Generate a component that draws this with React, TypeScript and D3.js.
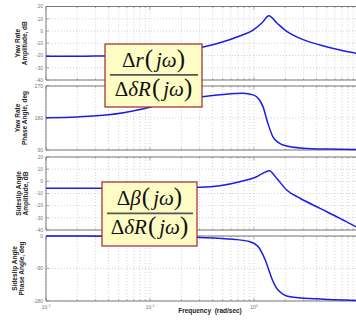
import * as d3 from 'd3';

// frequency (rad/sec) and response values
const yawAmpF = [0.01, 0.02, 0.03, 0.05, 0.08, 0.12, 0.18, 0.3, 0.47, 0.73, 0.98, 1.19, 1.39, 1.66, 2.08, 2.77, 4.31, 6.7, 10];
const yawAmpDb = [-20.6, -20.6, -20.5, -20.2, -19.6, -18.5, -16.8, -13.6, -9.6, -4.1, 0.8, 6.5, 12.5, 6.5, -0.6, -6, -11.4, -15.5, -18.4];

const yawPhF = [0.01, 0.02, 0.04, 0.08, 0.15, 0.32, 0.5, 0.78, 0.98, 1.12, 1.22, 1.36, 1.52, 1.7, 1.9, 2.96, 5, 10];
const yawPhDeg = [181, 183, 189, 204, 224, 240, 246, 249.5, 245, 232, 212, 165, 127, 112, 104, 95, 92.5, 91.5];

const betaAmpF = [0.01, 0.1, 0.3, 0.47, 0.73, 1.06, 1.2, 1.4, 1.65, 2.06, 2.77, 4.31, 6.7, 10];
const betaAmpDb = [-5.7, -5.6, -4.9, -3.6, -0.3, 3.8, 6.3, 8.7, 2.5, -7.1, -13.9, -22.2, -30.4, -38.2];

const betaPhF = [0.01, 0.1, 0.3, 0.63, 0.92, 1.1, 1.28, 1.37, 1.48, 1.71, 2.22, 4.0, 10];
const betaPhDeg = [0, -1.5, -4, -9, -15.7, -29.6, -66, -89, -117, -150, -168, -174, -179];

const ampTicks = [20, 10, 0, -10, -20, -30, -40];
const yawPhTicks = [90, 180, 270];
const betaPhTicks = [-180, -90, 0];
const decadeLabels = [{ v: 0.01, e: '-2' }, { v: 0.1, e: '-1' }, { v: 1, e: '0' }];

const W = 356;
const H = 320;
const x = d3.scaleLog().domain([0.01, 10]).range([46, 358]);

const minorF: number[] = [];
[0.01, 0.1, 1].forEach(d => { for (let k = 1; k <= 9; k++) minorF.push(d * k); });

const blue = '#1c1ce6';
const frame = '#7a7a7a';
const grid = '#b4b4b4';
const tickCol = '#777';

interface PanelProps {
  top: number;
  bottom: number;
  domain: [number, number];
  ticks: number[];
  fs: number[];
  vs: number[];
  label: [string, string];
  labelX: [number, number];
  showX?: boolean;
}

function Panel({ top, bottom, domain, ticks, fs, vs, label, labelX, showX }: PanelProps) {
  const y = d3.scaleLinear().domain(domain).range([bottom, top]);
  const line = d3.line<number>()
    .x((_, i) => x(fs[i]))
    .y(d => y(d))
    .curve(d3.curveMonotoneX);
  const cy = (top + bottom) / 2;
  return (
    <g>
      {minorF.map(f => (
        <line key={'v' + f} x1={x(f)} x2={x(f)} y1={top} y2={bottom}
          stroke={grid} strokeWidth={0.6} strokeDasharray="1,2" />
      ))}
      {ticks.map(t => (
        <line key={'h' + t} x1={x.range()[0]} x2={W} y1={y(t)} y2={y(t)}
          stroke={grid} strokeWidth={0.6} strokeDasharray="1,2" />
      ))}
      {minorF.map(f => {
        const major = Math.abs(Math.log10(f) - Math.round(Math.log10(f))) < 1e-6;
        const len = major ? 3 : 1.6;
        return (
          <g key={'t' + f}>
            <line x1={x(f)} x2={x(f)} y1={top} y2={top + len} stroke={frame} strokeWidth={0.6} />
            <line x1={x(f)} x2={x(f)} y1={bottom} y2={bottom - len} stroke={frame} strokeWidth={0.6} />
          </g>
        );
      })}
      {ticks.map(t => (
        <g key={'yt' + t}>
          <line x1={x.range()[0]} x2={x.range()[0] + 3} y1={y(t)} y2={y(t)} stroke={frame} strokeWidth={0.6} />
          <text x={x.range()[0] - 3} y={y(t)} dy="0.35em" textAnchor="end"
            fontSize={5} fill={tickCol} fontFamily="Liberation Sans, Arial, sans-serif">{t}</text>
        </g>
      ))}
      <line x1={x.range()[0]} x2={W} y1={top} y2={top} stroke={frame} strokeWidth={1} />
      <line x1={x.range()[0]} x2={W} y1={bottom} y2={bottom} stroke={frame} strokeWidth={1} />
      <line x1={x.range()[0]} x2={x.range()[0]} y1={top} y2={bottom} stroke={frame} strokeWidth={1} />
      <path d={line(vs) ?? ''} fill="none" stroke={blue} strokeWidth={1.5} />
      <g fontFamily="Liberation Sans, Arial, sans-serif" fontWeight="bold" fontSize={6.5} fill="#222" textAnchor="middle">
        <text transform={`translate(${labelX[0]},${cy}) rotate(-90)`} dy="0.35em">{label[0]}</text>
        <text transform={`translate(${labelX[1]},${cy}) rotate(-90)`} dy="0.35em">{label[1]}</text>
      </g>
      {showX && decadeLabels.map(d => (
        <text key={d.e} x={x(d.v)} y={bottom + 8} textAnchor="middle" fontSize={5} fill={tickCol}
          fontFamily="Liberation Sans, Arial, sans-serif">
          10<tspan dy={-2} fontSize={3.5}>{d.e}</tspan>
        </text>
      ))}
    </g>
  );
}

function Fraction({ x0, y0, w, h, num }: { x0: number; y0: number; w: number; h: number; num: string }) {
  const cx = x0 + w / 2;
  const mid = y0 + h * 0.49;
  return (
    <g fontFamily="Liberation Serif, Times New Roman, serif" fill="#111">
      <rect x={x0} y={y0} width={w} height={h} fill="#fcfcc4" stroke="#a3262a" strokeWidth={1.2} />
      <line x1={x0 + 5} x2={x0 + w - 4} y1={mid} y2={mid} stroke="#555" strokeWidth={1.6} />
      <text x={cx} y={mid - 8} textAnchor="middle" fontSize={21}>
        Δ<tspan fontStyle="italic">{num}</tspan>
        <tspan dx={1} fontSize={25}>(</tspan>
        <tspan dx={3} fontStyle="italic">jω</tspan>
        <tspan dx={0} fontSize={25}>)</tspan>
      </text>
      <text x={cx} y={mid + 21} textAnchor="middle" fontSize={21}>
        Δ<tspan fontStyle="italic">δR</tspan>
        <tspan dx={1} fontSize={25}>(</tspan>
        <tspan dx={3} fontStyle="italic">jω</tspan>
        <tspan dx={0} fontSize={25}>)</tspan>
      </text>
    </g>
  );
}

export default function App() {
  return (
    <svg width={W} height={H} viewBox={`0 0 ${W} ${H}`}
      style={{ position: 'absolute', left: 0, top: 0, background: '#fff' }}>
      <rect width={W} height={H} fill="#fff" />
      <Panel top={6.5} bottom={80} domain={[-40, 20]} ticks={ampTicks} fs={yawAmpF} vs={yawAmpDb}
        label={['Yaw Rate', 'Amplitude, dB']} labelX={[18, 25]} />
      <Panel top={86} bottom={150} domain={[90, 270]} ticks={yawPhTicks} fs={yawPhF} vs={yawPhDeg}
        label={['Yaw Rate', 'Phase Angle, deg']} labelX={[18, 25]} />
      <Panel top={157} bottom={230} domain={[-40, 20]} ticks={ampTicks} fs={betaAmpF} vs={betaAmpDb}
        label={['Sideslip Angle', 'Amplitude, dB']} labelX={[19, 26]} />
      <Panel top={236} bottom={301} domain={[-180, 0]} ticks={betaPhTicks} fs={betaPhF} vs={betaPhDeg}
        label={['Sideslip Angle', 'Phase Angle, deg']} labelX={[15, 22]} showX />
      <text x={210} y={313} textAnchor="middle" fontSize={6.5} fontWeight="bold" fill="#222"
        fontFamily="Liberation Sans, Arial, sans-serif" xmlSpace="preserve">Frequency  (rad/sec)</text>
      <Fraction x0={105} y0={44} w={97} h={63} num="r" />
      <Fraction x0={102} y0={182} w={95} h={64} num="β" />
    </svg>
  );
}
